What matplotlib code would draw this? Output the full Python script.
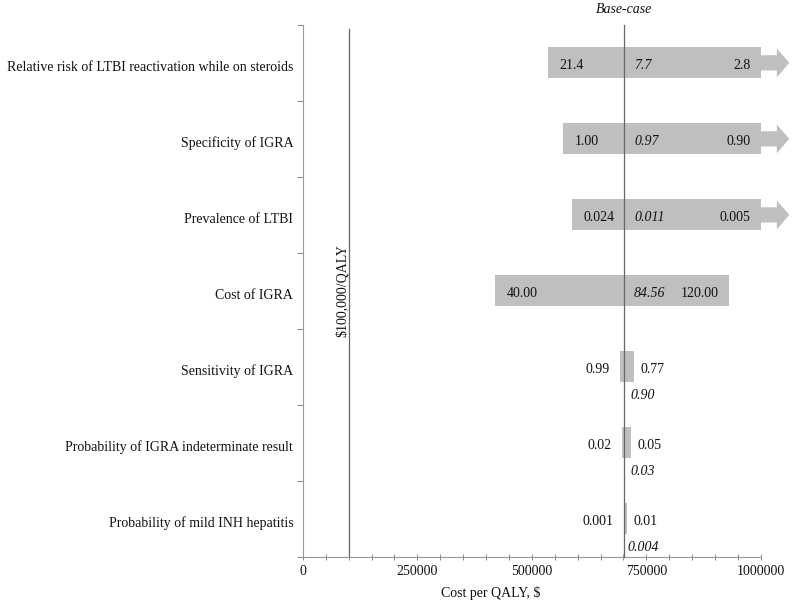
import matplotlib
matplotlib.use('Agg')
import matplotlib.pyplot as plt
import matplotlib.patches as mpatches
import numpy as np

plt.rcParams['font.family'] = ['Liberation Serif', 'DejaVu Serif']

# tornado data
params = ['Relative risk of LTBI reactivation while on steroids',
          'Specificity of IGRA',
          'Prevalence of LTBI',
          'Cost of IGRA',
          'Sensitivity of IGRA',
          'Probability of IGRA indeterminate result',
          'Probability of mild INH hepatitis']
low_labels = ['21.4', '1.00', '0.024', '40.00', '0.99', '0.02', '0.001']
base_labels = ['7.7', '0.97', '0.011', '84.56', '0.90', '0.03', '0.004']
high_labels = ['2.8', '0.90', '0.005', '120.00', '0.77', '0.05', '0.01']
bar_left = [535000, 568000, 587000, 419000, 692000, 697000, 701000]
bar_right = [1000000, 1000000, 1000000, 930000, 723000, 716000, 707000]
beyond_axis = [True, True, True, False, False, False, False]
base_case = 701000
threshold = 100000

gray = '#bfbfbf'
txt = '#111111'
fs = 10

fig = plt.figure(figsize=(7.95, 6.06), dpi=100)
ax = fig.add_axes([0.381, 0.081, 0.576, 0.878])

y = np.arange(len(params))
widths = np.array(bar_right) - np.array(bar_left)
ax.barh(y, widths, left=bar_left, height=0.41, color=gray, zorder=2)

xmax = 1000000
for i in range(len(params)):
    if beyond_axis[i]:
        arr = mpatches.FancyArrow(xmax, y[i], 62000, 0, width=0.2, head_width=0.38,
                                  head_length=27000, length_includes_head=True,
                                  color=gray, lw=0, clip_on=False, zorder=2)
        ax.add_patch(arr)
    if widths[i] > 200000:
        ax.text(bar_left[i] + 26000, y[i] + 0.03, low_labels[i], ha='left', va='center',
                fontsize=fs, color=txt, zorder=3)
        ax.text(base_case + 22000, y[i] + 0.03, base_labels[i], ha='left', va='center',
                fontsize=fs, style='italic', color=txt, zorder=3)
        ax.text(bar_right[i] - 22000, y[i] + 0.03, high_labels[i], ha='right', va='center',
                fontsize=fs, color=txt, zorder=3)
    else:
        ax.text(bar_left[i] - 22000, y[i] + 0.03, low_labels[i], ha='right', va='center',
                fontsize=fs, color=txt, zorder=3)
        ax.text(bar_right[i] + 14000, y[i] + 0.03, high_labels[i], ha='left', va='center',
                fontsize=fs, color=txt, zorder=3)
        ax.text(base_case + 42000, y[i] + 0.38, base_labels[i], ha='center', va='center',
                fontsize=fs, style='italic', color=txt, zorder=3)

# reference lines
ax.plot([base_case, base_case], [-0.5, 6.5], color='#666666', lw=0.9, zorder=4, clip_on=False)
ax.plot([threshold, threshold], [-0.45, 6.5], color='#666666', lw=0.9, zorder=4)
ax.text(base_case, -0.7, 'Base-case', ha='center', va='center', fontsize=fs,
        style='italic', color=txt)
ax.text(threshold - 14000, 3.0, '$100,000/QALY', rotation=90, ha='center', va='center',
        fontsize=fs, color=txt)

ax.set_xlim(0, xmax)
ax.set_ylim(6.5, -0.5)

ax.set_xticks([0, 250000, 500000, 750000, 1000000])
ax.set_xticklabels(['0', '250000', '500000', '750000', '1000000'], fontsize=fs, color=txt)
ax.set_xticks(np.arange(0, 1000001, 50000), minor=True)
ax.tick_params(axis='x', which='both', direction='inout', length=5, width=0.7, color='#888888')

ax.set_yticks(np.arange(-0.5, 6.6, 1.0))
ax.set_yticklabels([])
ax.set_yticks(y + 0.04, minor=True)
ax.set_yticklabels(params, minor=True, fontsize=fs, color=txt)
ax.tick_params(axis='y', which='major', direction='out', length=4, width=0.7, color='#888888')
ax.tick_params(axis='y', which='minor', length=0, pad=7)

ax.set_xlabel('Cost per QALY, $', fontsize=fs, color=txt, labelpad=4)
ax.xaxis.set_label_coords(0.41, -0.055)

for s in ['top', 'right']:
    ax.spines[s].set_visible(False)
for s in ['left', 'bottom']:
    ax.spines[s].set_color('#999999')
    ax.spines[s].set_linewidth(0.8)

fig.savefig('out.png', dpi=100)
